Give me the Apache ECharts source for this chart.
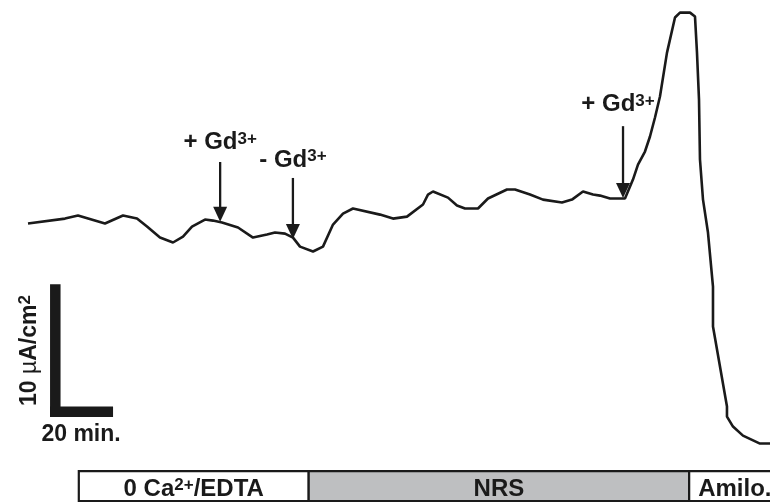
<!DOCTYPE html>
<html>
<head>
<meta charset="utf-8">
<script src="https://cdn.jsdelivr.net/npm/echarts@6/dist/echarts.min.js"></script>
<style>
html,body{margin:0;padding:0;background:#fff;}
#c{width:770px;height:502px;}
</style>
</head>
<body>
<div id="c"></div>
<script>
// Trace: time (min) vs short-circuit current (µA/cm²)
const traceTime = [0, 11.75, 15.87, 24.44, 30.16, 34.60, 37.78, 41.90, 46.03, 49.21, 52.06, 56.19, 58.73, 61.59, 66.67, 71.43, 75.87, 78.41, 81.59, 84.13, 86.35, 90.48, 93.65, 96.83, 100.0, 103.17, 111.75, 115.87, 120.32, 125.40, 126.98, 128.57, 133.33, 136.19, 138.73, 142.86, 146.03, 152.06, 154.60, 159.37, 163.49, 169.52, 172.70, 176.19, 179.37, 181.59, 184.76, 189.52, 192.06, 193.65, 195.87, 197.46, 199.05, 200.63, 202.86, 205.40, 206.98, 210.16, 211.75, 212.38, 213.02, 213.33, 214.29, 215.87, 217.46, 217.46, 221.90, 221.90, 223.81, 226.98, 232.38, 235.56];
const traceCurrent = [16.57, 16.94, 17.17, 16.57, 17.17, 16.94, 16.34, 15.51, 15.14, 15.59, 16.34, 16.87, 16.79, 16.64, 16.27, 15.51, 15.74, 15.89, 15.81, 15.51, 14.83, 14.46, 14.83, 16.49, 17.32, 17.70, 17.24, 16.94, 17.09, 18.00, 18.75, 18.98, 18.52, 17.92, 17.70, 17.70, 18.45, 19.13, 19.13, 18.75, 18.37, 18.15, 18.37, 18.98, 18.75, 18.67, 18.45, 18.45, 19.88, 21.01, 21.99, 23.12, 24.55, 26.13, 29.44, 32.08, 32.45, 32.45, 32.15, 29.44, 25.90, 21.39, 18.37, 15.89, 11.82, 8.81, 2.79, 2.03, 1.28, 0.60, 0, 0];

// Arrows (additions/removals)
const arrowTime = [61.0, 84.1, 188.9];
const arrowFrom = [21.2, 20.0, 23.9];
const arrowTo = [16.7, 15.4, 18.5];
const arrowText = ['+ Gd', '- Gd', '+ Gd'];
const arrowSup = ['3+', '3+', '3+'];

// Scale bar (20 min x 10 µA/cm²)
const scaleOrigin = [7, 2];
const scaleTime = 20;
const scaleCurrent = 10;

// Solution phases
const phaseName = ['0 Ca', 'NRS', 'Amilo.'];
const phaseSup = ['2+', '', ''];
const phaseTail = ['/EDTA', '', ''];
const phaseStart = [16.13, 89.11, 209.9];
const phaseEnd = [89.11, 209.9, 240];
const phaseFill = ['#ffffff', '#bebfc1', '#ffffff'];

const INK = '#1a1a1a';
const FONT = '"Liberation Sans", Arial, sans-serif';
const labelNudge = [[0, -7.5], [0, -6], [-5, -9.5]];

const chart = echarts.init(document.getElementById('c'), null, {renderer: 'canvas'});

const richSup = {
  m: {fontSize: 24, fontWeight: 'bold', fontFamily: FONT, lineHeight: 24, verticalAlign: 'bottom', fill: INK},
  s: {fontSize: 17, fontWeight: 'bold', fontFamily: FONT, lineHeight: 10, verticalAlign: 'top', fill: INK}
};

const option = {
  animation: false,
  backgroundColor: '#ffffff',
  grid: {left: 28, right: 0, top: 0, bottom: 0},
  xAxis: {type: 'value', min: 0, max: 235.56, show: false},
  yAxis: {type: 'value', min: -4.4, max: 33.4, show: false},
  series: [
    {
      type: 'line',
      data: traceTime.map((t, i) => [t, traceCurrent[i]]),
      showSymbol: false,
      symbol: 'none',
      lineStyle: {color: INK, width: 2.6},
      silent: true,
      z: 3
    },
    {
      type: 'custom',
      data: arrowTime.map((t, i) => [t, arrowFrom[i], arrowTo[i]]),
      renderItem: function (params, api) {
        const i = params.dataIndex;
        const top = api.coord([api.value(0), api.value(1)]);
        const tip = api.coord([api.value(0), api.value(2)]);
        const headH = 15, headW = 14;
        return {
          type: 'group',
          children: [
            {type: 'line', shape: {x1: top[0], y1: top[1], x2: tip[0], y2: tip[1] - headH + 2},
             style: {stroke: INK, lineWidth: 2.3}},
            {type: 'polygon', shape: {points: [[tip[0] - headW / 2, tip[1] - headH], [tip[0] + headW / 2, tip[1] - headH], [tip[0], tip[1]]]},
             style: {fill: INK}},
            {type: 'text', x: top[0] + labelNudge[i][0], y: top[1] + labelNudge[i][1],
             style: {text: '{m|' + arrowText[i] + '}{s|' + arrowSup[i] + '}', rich: richSup,
                     align: 'center', verticalAlign: 'bottom', fill: INK}}
          ]
        };
      },
      z: 4
    },
    {
      type: 'custom',
      data: [[scaleOrigin[0], scaleOrigin[1], scaleOrigin[0] + scaleTime, scaleOrigin[1] + scaleCurrent]],
      renderItem: function (params, api) {
        const p0 = api.coord([api.value(0), api.value(1)]);
        const p1 = api.coord([api.value(2), api.value(3)]);
        const th = 10.5;
        return {
          type: 'group',
          children: [
            {type: 'rect', shape: {x: p0[0], y: p1[1], width: th, height: p0[1] - p1[1]}, style: {fill: INK}},
            {type: 'rect', shape: {x: p0[0], y: p0[1] - th, width: p1[0] - p0[0], height: th}, style: {fill: INK}},
            {type: 'text', x: p0[0] + 31, y: p0[1] + 18,
             style: {text: '20 min.', fontSize: 23, fontWeight: 'bold', fontFamily: FONT, fill: INK,
                     align: 'center', verticalAlign: 'middle'}},
            {type: 'text', x: p0[0] - 21, y: (p0[1] + p1[1]) / 2, rotation: Math.PI / 2,
             style: {text: '{m|10 }{u|\u00b5}{m|A/cm}{s|2}',
                     rich: {
                       m: {fontSize: 23, fontWeight: 'bold', fontFamily: FONT, lineHeight: 24, verticalAlign: 'bottom', fill: INK},
                       u: {fontSize: 23, fontWeight: 'normal', fontFamily: FONT, lineHeight: 24, verticalAlign: 'bottom', fill: INK},
                       s: {fontSize: 17, fontWeight: 'bold', fontFamily: FONT, lineHeight: 10, verticalAlign: 'top', fill: INK}
                     },
                     align: 'center', verticalAlign: 'middle', fill: INK}}
          ]
        };
      },
      z: 4
    },
    {
      type: 'custom',
      data: phaseStart.map((s, i) => [s, phaseEnd[i]]),
      renderItem: function (params, api) {
        const i = params.dataIndex;
        const x0 = api.coord([api.value(0), 0])[0];
        const x1 = api.coord([api.value(1), 0])[0];
        const yTop = 471.2, h = 29.8;
        const w = api.getWidth();
        const clipped = x1 > w;
        const tx = clipped ? x0 + 9 : (x0 + x1) / 2;
        let txt = '{m|' + phaseName[i] + '}';
        if (phaseSup[i]) txt += '{s|' + phaseSup[i] + '}';
        if (phaseTail[i]) txt += '{m|' + phaseTail[i] + '}';
        return {
          type: 'group',
          children: [
            {type: 'rect', shape: {x: x0, y: yTop, width: x1 - x0, height: h},
             style: {fill: phaseFill[i], stroke: INK, lineWidth: 2.2}},
            {type: 'text', x: tx, y: 501,
             style: {text: txt, rich: richSup, align: clipped ? 'left' : 'center', verticalAlign: 'bottom', fill: INK}}
          ]
        };
      },
      z: 2
    }
  ]
};
chart.setOption(option);
</script>
</body>
</html>
